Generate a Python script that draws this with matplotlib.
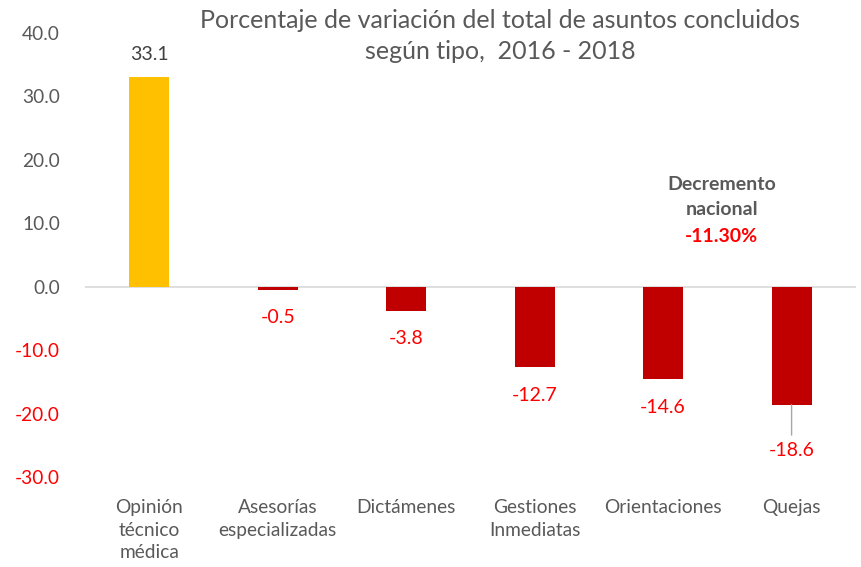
import matplotlib.pyplot as plt

categorias = ["Opinión\ntécnico\nmédica", "Asesorías\nespecializadas", "Dictámenes",
              "Gestiones\nInmediatas", "Orientaciones", "Quejas"]
variacion = [33.1, -0.5, -3.8, -12.7, -14.6, -18.6]
y_ticks = [-30, -20, -10, 0, 10, 20, 30, 40]

plt.rcParams['font.family'] = ['Lato', 'DejaVu Sans']

fig = plt.figure(figsize=(8.61, 5.67), dpi=100)
ax = fig.add_axes([0.0987, 0.1587, 0.8953, 0.7831])

colores = ['#FFC000' if v > 0 else '#C00000' for v in variacion]
x = list(range(len(categorias)))
ax.bar(x, variacion, width=0.31, color=colores, zorder=2)

ax.set_xlim(-0.5, len(categorias) - 0.5)
ax.set_ylim(-30, 40)
ax.set_yticks(y_ticks)
ax.set_yticklabels([f"{t:.1f}" for t in y_ticks])
for lbl, t in zip(ax.get_yticklabels(), y_ticks):
    lbl.set_color('#FF0000' if t < 0 else '#595959')
ax.set_xticks(x)
ax.set_xticklabels(categorias, color='#595959', linespacing=1.38)
ax.tick_params(axis='y', length=0, pad=18, labelsize=13.8)
ax.tick_params(axis='x', length=0, pad=16, labelsize=13.8)
for s in ax.spines.values():
    s.set_visible(False)
ax.axhline(0, color='#D9D9D9', lw=1.2, zorder=1)

for xi, v in zip(x, variacion):
    if v > 0:
        ax.annotate(f"{v:.1f}", (xi, v), xytext=(0, 16), textcoords='offset points',
                    ha='center', va='center', fontsize=14, color='#404040')
    elif xi == len(variacion) - 1:
        ax.annotate(f"{v:.1f}", (xi, v), xytext=(0, -33), textcoords='offset points',
                    ha='center', va='center', fontsize=14, color='#FF0000',
                    arrowprops=dict(arrowstyle='-', color='#A6A6A6', lw=1, shrinkA=3, shrinkB=0))
    else:
        ax.annotate(f"{v:.1f}", (xi, v), xytext=(0, -20), textcoords='offset points',
                    ha='center', va='center', fontsize=14, color='#FF0000')

fig.text(0.581, 0.963, "Porcentaje de variación del total de asuntos concluidos",
         ha='center', va='center', fontsize=18, color='#595959')
fig.text(0.581, 0.910, "según tipo,  2016 - 2018",
         ha='center', va='center', fontsize=18, color='#595959')

ax.text(4.457, 16.1, "Decremento", ha='center', va='center', fontsize=14,
        fontweight='bold', color='#595959')
ax.text(4.457, 12.1, "nacional", ha='center', va='center', fontsize=14,
        fontweight='bold', color='#595959')
ax.text(4.457, 7.9, "-11.30%", ha='center', va='center', fontsize=14,
        fontweight='bold', color='#FF0000')

fig.savefig('out.png', dpi=100)
